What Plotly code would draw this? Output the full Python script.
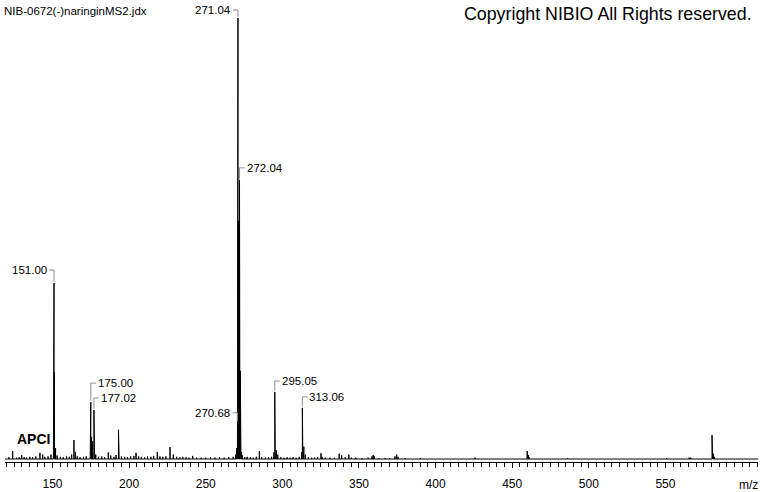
import plotly.graph_objects as go

# ---------------- data ----------------
mz = [121.5, 124.0, 126.5, 128.2, 129.9, 131.5, 133.0, 135.2, 137.0, 139.1,
      141.8, 143.6, 145.0, 147.1, 149.0, 150.6, 151.00, 151.3, 152.0, 153.0,
      155.1, 157.0, 159.2, 161.0, 162.5, 164.0, 164.9, 166.1, 168.0, 170.2,
      172.0, 174.6, 175.00, 175.5, 176.2, 177.02, 177.5, 178.2, 180.0, 182.1,
      184.0, 186.4, 188.0, 190.1, 191.5, 193.05, 193.5, 195.0, 197.1, 199.0,
      201.0, 203.1, 204.5, 206.2, 208.0, 210.1, 212.0, 214.2, 216.0, 218.4,
      220.1, 222.0, 224.0, 226.7, 228.8, 231.0, 233.1, 235.0, 237.1, 239.0,
      241.5, 244.0, 247.0, 250.0, 253.1, 256.0, 259.0, 262.0, 265.0, 267.9,
      269.5, 270.0, 270.3, 270.68, 270.85, 271.04, 271.3, 271.7, 272.04, 272.3,
      272.55, 273.0, 273.4, 274.0, 275.5, 277.0, 279.1, 281.0, 283.0, 285.0,
      286.5, 289.0, 291.0, 293.0, 294.5, 295.05, 295.4, 296.0, 297.0, 299.0,
      301.0, 303.1, 305.0, 307.0, 309.0, 311.0, 312.5, 313.06, 313.4, 314.0,
      315.0, 317.0, 319.1, 321.0, 323.0, 325.2, 326.0, 328.0, 331.0, 334.0,
      337.1, 338.7, 341.0, 343.4, 345.0, 348.0, 352.0, 356.0, 358.5, 359.3,
      360.0, 363.0, 367.0, 370.0, 373.5, 374.6, 375.5, 380.0, 390.0, 425.7,
      459.8, 460.5, 461.0, 486.2, 550.8, 565.5, 566.5, 580.4, 580.8, 581.3,
      582.0]
intensity = [0.4, 1.8, 0.3, 0.4, 0.9, 0.4, 0.3, 0.5, 0.4, 0.6,
             1.4, 1.0, 0.5, 0.6, 1.0, 2.0, 39.9, 19.7, 2.5, 0.8,
             0.5, 0.4, 0.6, 0.5, 1.0, 4.3, 1.6, 0.6, 0.4, 0.5,
             0.6, 3.9, 12.9, 5.0, 4.0, 11.1, 3.0, 1.0, 0.5, 0.6,
             0.4, 1.5, 0.8, 0.5, 0.9, 6.6, 2.0, 0.6, 0.5, 0.4,
             0.6, 0.7, 1.4, 0.6, 0.5, 0.4, 0.6, 0.5, 0.7, 1.6,
             0.6, 0.5, 0.6, 2.7, 1.0, 0.5, 0.4, 0.5, 0.4, 0.3,
             0.7, 0.3, 0.3, 0.3, 0.4, 0.3, 0.4, 0.3, 0.4, 0.5,
             1.0, 1.5, 2.5, 8.2, 40.0, 100.0, 54.0, 54.0, 63.3, 54.0,
             20.0, 3.0, 1.5, 0.8, 0.4, 0.5, 0.4, 0.3, 0.5, 1.8,
             0.4, 0.3, 0.4, 0.5, 1.5, 15.2, 7.7, 2.0, 1.0, 0.4,
             0.3, 0.4, 0.3, 0.4, 0.3, 0.5, 1.5, 11.6, 5.9, 2.8,
             1.0, 0.4, 0.3, 0.3, 0.4, 1.3, 0.5, 0.3, 0.3, 0.3,
             1.2, 0.8, 0.4, 1.0, 0.3, 0.3, 0.2, 0.3, 0.6, 0.9,
             0.6, 0.2, 0.2, 0.2, 0.6, 1.0, 0.5, 0.2, 0.2, 0.3,
             1.8, 0.9, 0.4, 0.2, 0.2, 0.3, 0.3, 5.4, 2.8, 1.2,
             0.5]

label_mz = [151.00, 175.00, 177.02, 270.68, 271.04, 272.04, 295.05, 313.06]
label_text = ["151.00", "175.00", "177.02", "270.68", "271.04", "272.04", "295.05", "313.06"]

tick_vals = [150, 200, 250, 300, 350, 400, 450, 500, 550]
tick_text = ["150", "200", "250", "300", "350", "400", "450", "500", "550"]

title_text = "NIB-0672(-)naringinMS2.jdx"
copyright_text = "Copyright NIBIO All Rights reserved."
ion_text = "APCI"
x_unit = "m/z"

# ---------------- layout config ----------------
W, H = 760, 492
ML, MR, MT, MB = 5, 2, 8, 30
XMIN, XMAX = 119.0, 610.4
YMIN, YMAX = -0.68, 102.27
plot_w = W - ML - MR
plot_h = H - MT - MB
px_x = plot_w / (XMAX - XMIN)
px_y = plot_h / (YMAX - YMIN)

# label placement: side of text, vertical offset of bracket (px)
label_side = ["left", "right", "right", "left", "left", "right", "right", "right"]
label_off = [13, 19, 12, 10, 8, 12, 11, 11]
HOOK = 5  # px
BRACKET = "#8c8c8c"
FONT = "Liberation Sans, Arial, sans-serif"

# build stick spectrum
pairs = sorted(zip(mz, intensity))
xs, ys = [XMIN], [0]
for m, h in pairs:
    xs += [m, m, m]
    ys += [0, h, 0]
xs.append(XMAX)
ys.append(0)

fig = go.Figure()
fig.add_trace(go.Scatter(x=xs, y=ys, mode="lines",
                         line=dict(color="black", width=1),
                         hoverinfo="skip", showlegend=False))

lookup = dict(zip(mz, intensity))
shapes = []
annotations = []
for m, txt, side, off in zip(label_mz, label_text, label_side, label_off):
    h = lookup[m]
    top = h + off / px_y
    hook = HOOK / px_x
    shapes.append(dict(type="line", xref="x", yref="y", x0=m, x1=m, y0=h + 0.3, y1=top,
                       line=dict(color=BRACKET, width=1)))
    if side == "right":
        shapes.append(dict(type="line", xref="x", yref="y", x0=m, x1=m + hook, y0=top, y1=top,
                           line=dict(color=BRACKET, width=1)))
        annotations.append(dict(x=m + hook, y=top, xref="x", yref="y", text=txt,
                                showarrow=False, xanchor="left", yanchor="middle",
                                xshift=0, font=dict(family=FONT, size=11.5, color="black")))
    else:
        shapes.append(dict(type="line", xref="x", yref="y", x0=m - hook, x1=m, y0=top, y1=top,
                           line=dict(color=BRACKET, width=1)))
        annotations.append(dict(x=m - hook, y=top, xref="x", yref="y", text=txt,
                                showarrow=False, xanchor="right", yanchor="middle",
                                xshift=0, font=dict(family=FONT, size=11.5, color="black")))


def px_to_paper_x(px):
    return (px - ML) / plot_w


def px_to_paper_y(py):
    return (H - MB - py) / plot_h


annotations.append(dict(x=px_to_paper_x(2), y=px_to_paper_y(11), xref="paper", yref="paper",
                        text=title_text, showarrow=False, xanchor="left", yanchor="middle",
                        font=dict(family=FONT, size=11.5, color="black")))
annotations.append(dict(x=px_to_paper_x(754), y=px_to_paper_y(14), xref="paper", yref="paper",
                        text=copyright_text, showarrow=False, xanchor="right", yanchor="middle",
                        font=dict(family=FONT, size=17.8, color="black")))
annotations.append(dict(x=px_to_paper_x(15), y=px_to_paper_y(439), xref="paper", yref="paper",
                        text="<b>" + ion_text + "</b>", showarrow=False, xanchor="left",
                        yanchor="middle", font=dict(family=FONT, size=14, color="black")))
annotations.append(dict(x=px_to_paper_x(748), y=px_to_paper_y(485), xref="paper", yref="paper",
                        text=x_unit, showarrow=False, xanchor="center", yanchor="middle",
                        font=dict(family=FONT, size=12, color="black")))

fig.update_layout(
    width=W, height=H,
    margin=dict(l=ML, r=MR, t=MT, b=MB, pad=0),
    paper_bgcolor="white", plot_bgcolor="white",
    showlegend=False,
    shapes=shapes, annotations=annotations,
    xaxis=dict(range=[XMIN, XMAX], showgrid=False, zeroline=False,
               showline=True, linecolor="black", linewidth=1,
               ticks="outside", ticklen=5, tickcolor="black", tickwidth=1,
               tickvals=tick_vals, ticktext=tick_text, ticklabelstandoff=6,
               tickfont=dict(family=FONT, size=12, color="black"),
               minor=dict(dtick=5, ticks="outside", ticklen=4, tickcolor="black", tickwidth=1)),
    yaxis=dict(range=[YMIN, YMAX], visible=False, showgrid=False, zeroline=False),
)

fig.write_html("out.html",
               config={"displayModeBar": False, "staticPlot": True},
               post_script="document.body.style.margin='0';document.body.style.overflow='hidden';")
